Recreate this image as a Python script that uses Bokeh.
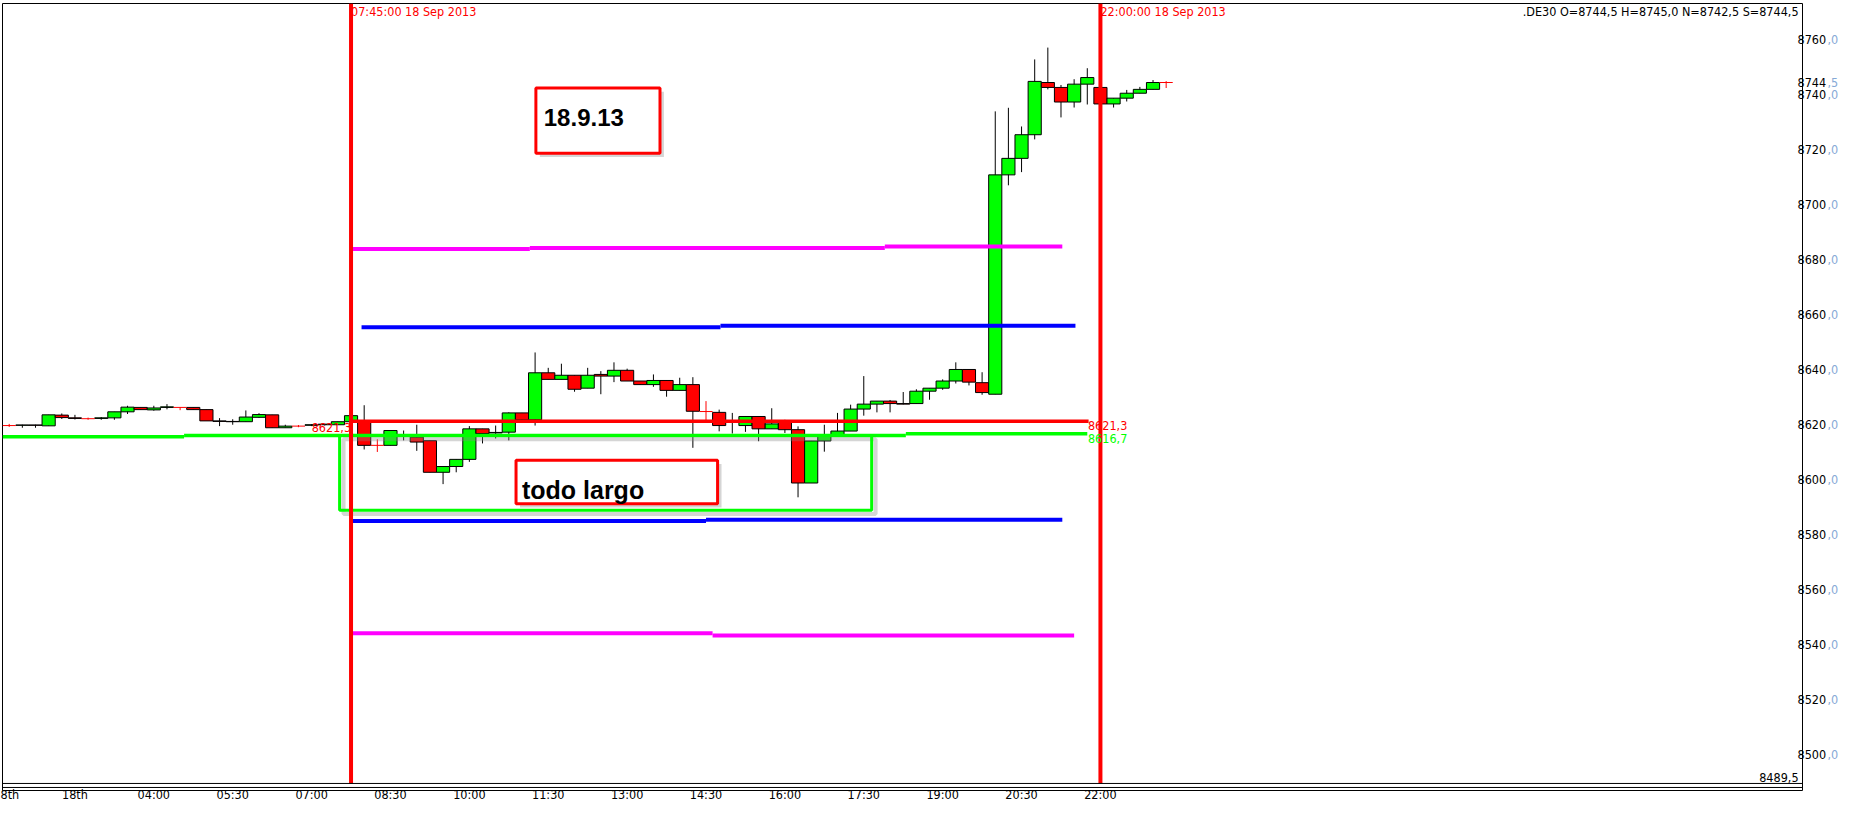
from bokeh.plotting import figure
from bokeh.models import Range1d, LinearAxis, FixedTicker, Span
from bokeh.core.properties import value
from bokeh.embed import file_html
from bokeh.resources import INLINE

# ---------------- data (15-minute bars, index 0 = first bar shown) ----------------
opens = [8619.7, 8619.8, 8619.9, 8619.6, 8623.5, 8622.5, 8622.2, 8622.3, 8622.5, 8624.7,
         8626.3, 8625.4, 8626.3, 8626.3, 8626.3, 8625.5, 8621.4, 8621.2, 8621.1, 8622.7,
         8623.6, 8618.9, 8619.5, 8619.8, 8620.0, 8620.0, 8621.1, 8621.2, 8612.5, 8612.5,
         8616.2, 8615.5, 8614.2, 8602.7, 8604.8, 8607.4, 8618.5, 8617.0, 8617.3, 8624.3,
         8621.8, 8638.9, 8636.5, 8638.0, 8633.3, 8638.3, 8637.7, 8639.8, 8635.9, 8634.6,
         8636.1, 8632.5, 8634.6, 8624.8, 8624.5, 8621.0, 8619.7, 8623.0, 8618.5, 8621.1,
         8618.2, 8598.8, 8614.1, 8615.8, 8617.7, 8625.7, 8627.5, 8628.6, 8627.7, 8627.7,
         8632.2, 8633.3, 8635.9, 8640.1, 8635.3, 8631.1, 8710.9, 8716.9, 8725.5, 8744.5,
         8742.7, 8737.4, 8743.9, 8742.7, 8736.7, 8738.8, 8740.6, 8742.0, 8744.5]
highs = [8620.3, 8620.0, 8620.0, 8623.6, 8624.1, 8623.6, 8622.6, 8622.8, 8624.7, 8626.9,
         8626.3, 8626.9, 8627.5, 8626.3, 8626.3, 8625.5, 8622.4, 8622.0, 8625.2, 8624.2,
         8623.6, 8620.0, 8619.9, 8620.2, 8620.4, 8621.1, 8623.5, 8627.1, 8614.7, 8617.9,
         8617.9, 8620.0, 8614.2, 8604.8, 8607.4, 8619.5, 8618.5, 8619.7, 8624.5, 8624.3,
         8646.3, 8640.7, 8642.2, 8638.0, 8640.7, 8639.5, 8642.7, 8640.4, 8635.9, 8638.3,
         8636.1, 8637.1, 8637.3, 8628.6, 8625.5, 8624.3, 8623.0, 8623.0, 8626.0, 8621.8,
         8619.4, 8614.1, 8620.0, 8624.3, 8627.3, 8637.7, 8628.6, 8629.0, 8631.9, 8632.9,
         8633.3, 8636.5, 8642.7, 8640.1, 8639.1, 8734.0, 8735.3, 8728.5, 8752.9, 8757.2,
         8743.6, 8745.7, 8749.7, 8742.7, 8738.8, 8741.8, 8742.9, 8745.4, 8745.0]
lows = [8619.2, 8618.9, 8618.9, 8619.6, 8622.1, 8621.9, 8621.8, 8621.8, 8621.8, 8623.9,
        8625.5, 8625.1, 8625.6, 8625.3, 8625.5, 8621.4, 8619.5, 8620.0, 8621.1, 8622.5,
        8618.9, 8618.9, 8619.1, 8619.5, 8619.7, 8620.0, 8621.0, 8611.0, 8610.1, 8612.5,
        8614.3, 8610.5, 8602.7, 8598.4, 8602.7, 8606.5, 8613.2, 8615.0, 8614.3, 8621.8,
        8619.7, 8636.5, 8636.5, 8632.0, 8633.3, 8631.1, 8635.5, 8635.9, 8634.6, 8633.8,
        8630.2, 8632.5, 8611.6, 8621.5, 8617.6, 8616.8, 8617.4, 8614.0, 8618.5, 8617.0,
        8593.6, 8598.8, 8610.2, 8615.8, 8617.7, 8623.3, 8624.5, 8624.5, 8627.4, 8627.7,
        8629.1, 8632.7, 8635.0, 8634.3, 8630.9, 8631.1, 8707.1, 8711.9, 8723.8, 8742.0,
        8731.8, 8735.4, 8736.5, 8736.7, 8735.4, 8737.6, 8740.6, 8742.0, 8742.5]
closes = [8619.7, 8619.9, 8619.8, 8623.6, 8622.6, 8622.3, 8622.2, 8622.5, 8624.7, 8626.4,
          8625.5, 8626.1, 8626.5, 8626.3, 8625.5, 8621.4, 8621.2, 8621.1, 8622.8, 8623.7,
          8618.9, 8619.5, 8619.5, 8620.0, 8620.2, 8621.1, 8623.3, 8612.5, 8612.5, 8617.9,
          8616.0, 8613.7, 8602.7, 8604.8, 8607.4, 8618.5, 8616.8, 8617.2, 8624.3, 8621.8,
          8638.9, 8636.5, 8638.0, 8632.9, 8638.0, 8637.7, 8639.8, 8635.9, 8634.6, 8636.1,
          8632.5, 8634.6, 8624.9, 8624.8, 8619.7, 8621.2, 8623.0, 8618.5, 8620.3, 8618.2,
          8598.8, 8614.1, 8615.8, 8617.7, 8625.7, 8627.5, 8628.6, 8627.7, 8627.5, 8632.2,
          8633.3, 8635.9, 8640.1, 8635.5, 8631.7, 8710.9, 8716.9, 8725.5, 8744.9, 8742.7,
          8737.4, 8743.9, 8746.3, 8736.7, 8738.8, 8740.6, 8742.0, 8744.5, 8744.5]

x_tick_pos = [-0.44, 5, 11, 17, 23, 29, 35, 41, 47, 53, 59, 65, 71, 77, 83]
x_tick_labels = ["8th", "18th", "04:00", "05:30", "07:00", "08:30", "10:00", "11:30",
                 "13:00", "14:30", "16:00", "17:30", "19:00", "20:30", "22:00"]
y_ticks = [8500, 8520, 8540, 8560, 8580, 8600, 8620, 8640, 8660, 8680, 8700, 8720, 8740, 8760]
last_price = 8744.5

y_low, y_high = 8486.94, 8773.24
x_low, x_high = -0.51, 136.4
chart_floor = 8489.5
second_rule = 8488.04

session_bars = [26, 83]
session_labels = ["07:45:00 18 Sep 2013", "22:00:00 18 Sep 2013"]
header_text = ".DE30 O=8744,5 H=8745,0 N=8742,5 S=8744,5"
header_x = 136.1
floor_text = "8489,5"

# horizontal levels (segments)
red_x0, red_x1, red_y = [26.0], [82.1], [8621.3]
green_x0, green_x1, green_y = [-0.5, 13.3, 68.2], [13.3, 68.2, 82.0], [8615.6, 8616.1, 8616.7]
bluehi_x0, bluehi_x1, bluehi_y = [26.8, 54.1], [54.1, 81.1], [8655.5, 8656.0]
bluelo_x0, bluelo_x1, bluelo_y = [26.1, 53.0], [53.0, 80.1], [8585.0, 8585.4]
maghi_x0, maghi_x1, maghi_y = [26.1, 39.6, 66.6], [39.6, 66.6, 80.1], [8683.9, 8684.3, 8684.8]
maglo_x0, maglo_x1, maglo_y = [26.1, 53.5], [53.5, 81.0], [8544.1, 8543.3]

level_label_x = 82.05
level_label_text = ["8621,3", "8616,7"]
level_label_y = [8621.3, 8616.7]
left_label_x, left_label_y, left_label_text = 26.0, 8621.3, "8621,3"

# annotation boxes: left, right, top, bottom
green_box = [25.13, 65.6, 8616.1, 8588.9]
todo_box = [38.55, 53.88, 8607.1, 8591.3]
date_box = [40.06, 49.5, 8742.5, 8718.8]
todo_text, todo_x, todo_y = "todo largo", 39.0, 8596.4
date_text, date_x, date_y = "18.9.13", 40.66, 8731.6

# ---------------- figure ----------------
SMALL = "DejaVu Sans Condensed, Liberation Sans, sans-serif"
FS = "12.5px"
p = figure(width=1841, height=804, output_backend="svg", toolbar_location=None,
           x_range=Range1d(x_low, x_high), y_range=Range1d(y_low, y_high),
           x_axis_location="below", y_axis_location="right",
           min_border_left=2, min_border_right=0, min_border_top=3, min_border_bottom=0)
p.grid.visible = False
p.outline_line_color = "black"
p.outline_line_width = 1
p.background_fill_color = "white"
p.border_fill_color = "white"


def style_axis(ax, color, standoff):
    ax.axis_label = None
    ax.major_label_text_font = SMALL
    ax.major_label_text_font_size = FS
    ax.major_label_text_color = color
    ax.major_label_standoff = standoff
    ax.axis_line_color = None
    ax.major_tick_line_color = None
    ax.minor_tick_line_color = None
    ax.major_tick_out = 0
    ax.major_tick_in = 0
    ax.minor_tick_out = 0
    ax.minor_tick_in = 0


xa = p.xaxis[0]
xa.ticker = FixedTicker(ticks=x_tick_pos)
xa.major_label_overrides = {t: s for t, s in zip(x_tick_pos, x_tick_labels)}
xa.major_label_text_align = "left"
xa.major_label_text_baseline = "top"
style_axis(xa, "black", -4)

price_ticks = y_ticks + [last_price]
ya = p.yaxis[0]
ya.ticker = FixedTicker(ticks=price_ticks)
ya.major_label_overrides = {t: f"{t:.1f}".split(".")[0] for t in price_ticks}
style_axis(ya, "black", -5)

ya2 = LinearAxis(ticker=FixedTicker(ticks=price_ticks))
ya2.major_label_overrides = {t: "," + f"{t:.1f}".split(".")[1] for t in price_ticks}
style_axis(ya2, "#86A9D6", -2)
p.add_layout(ya2, "right")

# frame floor and double rule
p.add_layout(Span(location=chart_floor, dimension="width", line_color="black", line_width=1))
p.add_layout(Span(location=second_rule, dimension="width", line_color="black", line_width=1))

# ---------------- candles ----------------
idx = list(range(len(opens)))
doji = [i for i in idx if opens[i] == closes[i]]
bars = [i for i in idx if opens[i] != closes[i]]

p.segment(x0=bars, y0=[lows[i] for i in bars], x1=bars, y1=[highs[i] for i in bars],
          line_color="black", line_width=1)
p.vbar(x=bars, width=1.0,
       top=[max(opens[i], closes[i]) for i in bars],
       bottom=[min(opens[i], closes[i]) for i in bars],
       fill_color=["#00FF00" if closes[i] > opens[i] else "#FF0000" for i in bars],
       line_color="black", line_width=1)
p.segment(x0=[i - 0.5 for i in doji], y0=[opens[i] for i in doji],
          x1=[i + 0.5 for i in doji], y1=[opens[i] for i in doji],
          line_color="#FF0000", line_width=1)
p.segment(x0=doji, y0=[lows[i] for i in doji], x1=doji, y1=[highs[i] for i in doji],
          line_color="#FF0000", line_width=1)

# ---------------- level lines ----------------
for x0, x1, yy, col, lw in [(green_x0, green_x1, green_y, "#00FF00", 3.5),
                            (red_x0, red_x1, red_y, "#FF0000", 3.5),
                            (bluehi_x0, bluehi_x1, bluehi_y, "#0000FF", 4),
                            (bluelo_x0, bluelo_x1, bluelo_y, "#0000FF", 4),
                            (maghi_x0, maghi_x1, maghi_y, "#FF00FF", 4),
                            (maglo_x0, maglo_x1, maglo_y, "#FF00FF", 4)]:
    p.segment(x0=x0, y0=yy, x1=x1, y1=yy, line_color=col, line_width=lw)

# ---------------- boxes ----------------
DX, DY = 0.3, 1.4
gl, gr, gt, gb = green_box
p.quad(left=gl + DX, right=gr + DX, top=gt - DY, bottom=gb - DY, fill_color=None,
       line_color="#888888", line_alpha=0.35, line_width=4)
p.quad(left=gl, right=gr, top=gt, bottom=gb, fill_color=None,
       line_color="#00FF00", line_width=3)
for (bl, br, bt, bb) in [todo_box, date_box]:
    p.quad(left=bl + DX, right=br + DX, top=bt - DY, bottom=bb - DY,
           fill_color="#888888", fill_alpha=0.35, line_color=None)
    p.quad(left=bl, right=br, top=bt, bottom=bb, fill_color="white",
           line_color="#FF0000", line_width=3)
p.text(x=[todo_x], y=[todo_y], text=[todo_text], text_font=value("Liberation Sans"),
       text_font_size="25px", text_font_style="bold", text_color="black",
       text_baseline="alphabetic", text_align="left")
p.text(x=[date_x], y=[date_y], text=[date_text], text_font=value("Liberation Sans"),
       text_font_size="24px", text_font_style="bold", text_color="black",
       text_baseline="alphabetic", text_align="left")

# ---------------- session lines ----------------
p.segment(x0=session_bars, y0=[chart_floor] * len(session_bars),
          x1=session_bars, y1=[y_high] * len(session_bars),
          line_color="#FF0000", line_width=4)
p.text(x=session_bars, y=[y_high - 0.3] * len(session_bars), text=session_labels,
       text_font=value(SMALL), text_font_size=FS, text_color="#FF0000",
       text_baseline="top", text_align="left")

# ---------------- texts ----------------
p.text(x=[header_x], y=[y_high - 0.3], text=[header_text], text_font=value(SMALL),
       text_font_size=FS, text_color="black", text_baseline="top", text_align="right")
p.text(x=[header_x], y=[chart_floor + 0.4], text=[floor_text], text_font=value(SMALL),
       text_font_size=FS, text_color="black", text_baseline="bottom", text_align="right")
p.text(x=[level_label_x] * 2, y=[v + 0.1 for v in level_label_y], text=level_label_text,
       text_font=value(SMALL), text_font_size=FS,
       text_color=["#FF0000", "#00FF00"], text_baseline="top", text_align="left")
p.text(x=[left_label_x], y=[left_label_y - 0.6], text=[left_label_text],
       text_font=value(SMALL), text_font_size=FS, text_color="#FF0000",
       text_baseline="top", text_align="right")

open("out.html", "w").write(file_html(p, INLINE))
